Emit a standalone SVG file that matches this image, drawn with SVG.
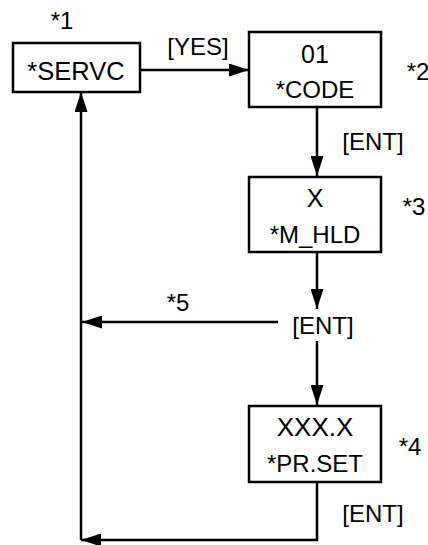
<svg xmlns="http://www.w3.org/2000/svg" width="428" height="545" viewBox="0 0 428 545">
<defs>
<style>
text{font-family:"Liberation Sans",Arial,sans-serif;font-size:24px;fill:#000}
.box{fill:#fff;stroke:#000;stroke-width:2.5}
.ln{fill:none;stroke:#000;stroke-width:2.5}
.c{text-anchor:middle}
</style>
<marker id="ah" viewBox="0 0 20 13" refX="20" refY="6.5" markerWidth="20" markerHeight="13" markerUnits="userSpaceOnUse" orient="auto">
<path d="M0,0 L20,6.5 L0,13 Z" fill="#000"/>
</marker>
</defs>
<rect width="428" height="545" fill="#fff"/>
<g id="connectors">
<line class="ln" x1="140" y1="70" x2="249" y2="70" marker-end="url(#ah)"/>
<line class="ln" x1="317" y1="107" x2="317" y2="176" marker-end="url(#ah)"/>
<line class="ln" x1="317" y1="252" x2="317" y2="309" marker-end="url(#ah)"/>
<line class="ln" x1="278" y1="322" x2="82" y2="322" marker-end="url(#ah)"/>
<line class="ln" x1="317" y1="341" x2="317" y2="405" marker-end="url(#ah)"/>
<polyline class="ln" points="317,482 317,540 81,540" marker-end="url(#ah)"/>
<polyline class="ln" points="81,540 81,92" marker-end="url(#ah)"/>
<text x="198" y="55" class="c">[YES]</text>
<text x="373" y="150" class="c">[ENT]</text>
<text x="323" y="334" class="c">[ENT]</text>
<text x="178" y="311" class="c">*5</text>
<text x="373" y="522" class="c">[ENT]</text>
</g>
<g id="servc">
<rect class="box" x="13" y="43" width="127" height="49"/>
<text x="76" y="80" class="c" style="font-size:25.5px">*SERVC</text>
<text x="62" y="29" class="c">*1</text>
</g>
<g id="code">
<rect class="box" x="249" y="32" width="132" height="75"/>
<text x="315" y="63" class="c" style="font-size:25px">01</text>
<text x="315" y="98" class="c">*CODE</text>
<text x="418" y="80" class="c">*2</text>
</g>
<g id="mhld">
<rect class="box" x="249" y="177" width="132" height="75"/>
<text x="315" y="207" class="c" style="font-size:25px">X</text>
<text x="315" y="243" class="c">*M_HLD</text>
<text x="414" y="215" class="c">*3</text>
</g>
<g id="prset">
<rect class="box" x="249" y="406" width="132" height="76"/>
<text x="315" y="436" class="c" style="font-size:26px">XXX.X</text>
<text x="315" y="472" class="c">*PR.SET</text>
<text x="410" y="455" class="c">*4</text>
</g>
</svg>
